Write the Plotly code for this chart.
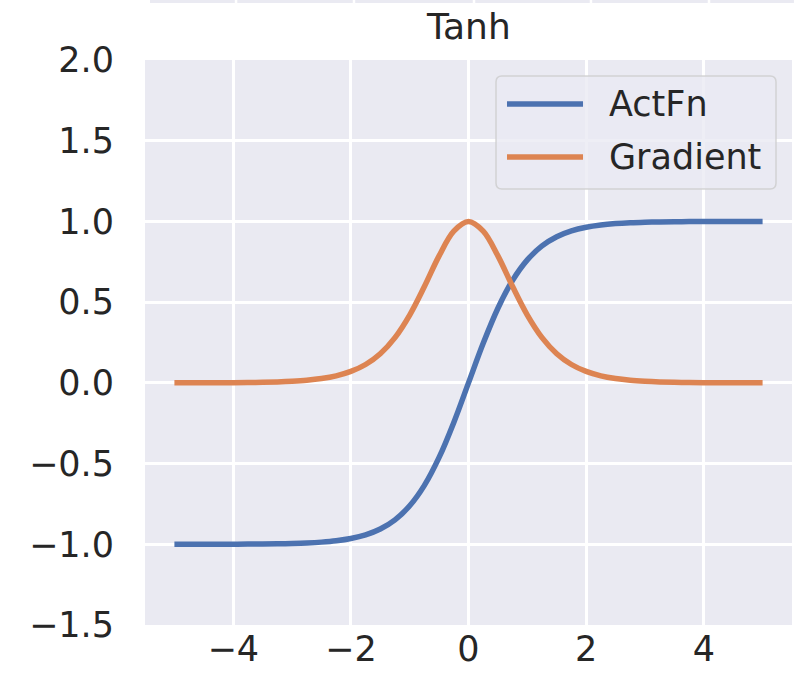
import plotly.graph_objects as go

# Sample points of the activation function and its derivative
x_vals = [-5.0, -4.75, -4.5, -4.25, -4.0, -3.75, -3.5, -3.25, -3.0, -2.75,
          -2.5, -2.25, -2.0, -1.75, -1.5, -1.25, -1.0, -0.75, -0.5, -0.25,
          0.0, 0.25, 0.5, 0.75, 1.0, 1.25, 1.5, 1.75, 2.0, 2.25,
          2.5, 2.75, 3.0, 3.25, 3.5, 3.75, 4.0, 4.25, 4.5, 4.75, 5.0]

actfn_vals = [-0.9999, -0.9999, -0.9998, -0.9996, -0.9993, -0.9989, -0.9982, -0.9970, -0.9951, -0.9919,
              -0.9866, -0.9780, -0.9640, -0.9414, -0.9051, -0.8483, -0.7616, -0.6351, -0.4621, -0.2449,
              0.0, 0.2449, 0.4621, 0.6351, 0.7616, 0.8483, 0.9051, 0.9414, 0.9640, 0.9780,
              0.9866, 0.9919, 0.9951, 0.9970, 0.9982, 0.9989, 0.9993, 0.9996, 0.9998, 0.9999, 0.9999]

gradient_vals = [0.0002, 0.0003, 0.0005, 0.0008, 0.0013, 0.0022, 0.0036, 0.0060, 0.0099, 0.0162,
                 0.0266, 0.0435, 0.0707, 0.1138, 0.1807, 0.2804, 0.4200, 0.5966, 0.7864, 0.9400,
                 1.0, 0.9400, 0.7864, 0.5966, 0.4200, 0.2804, 0.1807, 0.1138, 0.0707, 0.0435,
                 0.0266, 0.0162, 0.0099, 0.0060, 0.0036, 0.0022, 0.0013, 0.0008, 0.0005, 0.0003, 0.0002]

series_names = ["ActFn", "Gradient"]
series_colors = ["#4c72b0", "#dd8452"]
title_text = "Tanh"

FONT = "DejaVu Sans"
TEXT_COLOR = "#262626"
BG = "#eaeaf2"

fig = go.Figure()
for name, ys, color in zip(series_names, [actfn_vals, gradient_vals], series_colors):
    fig.add_trace(go.Scatter(
        x=x_vals, y=ys, mode="lines", name=name,
        line=dict(color=color, width=5.5, shape="spline"),
        showlegend=False,
    ))

shapes = []
annotations = []

# Legend frame with rounded corners (paper coordinates)
x0, x1, y0, y1 = 0.5425, 0.9753, 0.7717, 0.9717
rx, ry = 0.0093, 0.0106
path = (f"M {x0+rx},{y0} L {x1-rx},{y0} Q {x1},{y0} {x1},{y0+ry} "
        f"L {x1},{y1-ry} Q {x1},{y1} {x1-rx},{y1} "
        f"L {x0+rx},{y1} Q {x0},{y1} {x0},{y1-ry} "
        f"L {x0},{y0+ry} Q {x0},{y0} {x0+rx},{y0} Z")
shapes.append(dict(type="path", xref="paper", yref="paper", path=path,
                   fillcolor="rgba(234,234,242,0.8)",
                   line=dict(color="rgba(204,204,204,0.8)", width=1.5),
                   layer="above"))

legend_rows = [0.9221, 0.8283]
for name, color, ly in zip(series_names, series_colors, legend_rows):
    shapes.append(dict(type="line", xref="paper", yref="paper",
                       x0=0.5595, x1=0.6770, y0=ly, y1=ly,
                       line=dict(color=color, width=5.5), layer="above"))
    annotations.append(dict(xref="paper", yref="paper", x=0.7140, y=ly,
                            xanchor="left", yanchor="middle", showarrow=False,
                            text=name, font=dict(family=FONT, size=35, color=TEXT_COLOR)))

# Edge of the neighbouring panel above
shapes.append(dict(type="rect", xref="paper", yref="paper",
                   x0=0.0077, x1=1.003, y0=1.1009, y1=1.12,
                   fillcolor=BG, line=dict(width=0), layer="below"))
for gx in [0.1407, 0.323, 0.5085, 0.6893, 0.8717]:
    shapes.append(dict(type="line", xref="paper", yref="paper",
                       x0=gx, x1=gx, y0=1.1009, y1=1.12,
                       line=dict(color="white", width=2.5), layer="below"))

annotations.append(dict(xref="paper", yref="paper", x=0.5, y=1.0,
                        yshift=34, xanchor="center", yanchor="middle",
                        showarrow=False, text=title_text,
                        font=dict(family=FONT, size=36, color=TEXT_COLOR)))

fig.update_layout(
    width=803, height=687,
    margin=dict(l=145, r=11, t=60, b=62),
    paper_bgcolor="white",
    plot_bgcolor=BG,
    font=dict(family=FONT, size=35, color=TEXT_COLOR),
    shapes=shapes,
    annotations=annotations,
    showlegend=False,
)
fig.update_xaxes(
    range=[-5.5, 5.5], tick0=0, dtick=2,
    showgrid=True, gridcolor="white", gridwidth=2.5,
    zeroline=False, showline=False, ticks="",
    automargin=False,
    ticklabelstandoff=0,
    tickfont=dict(family=FONT, size=35, color=TEXT_COLOR),
)
fig.update_yaxes(
    range=[-1.5, 2.0], tick0=0, dtick=0.5, tickformat=".1f",
    showgrid=True, gridcolor="white", gridwidth=2.5,
    zeroline=False, showline=False, ticks="",
    automargin=False,
    ticklabelstandoff=30,
    tickfont=dict(family=FONT, size=35, color=TEXT_COLOR),
)

fig.write_html("out.html")
